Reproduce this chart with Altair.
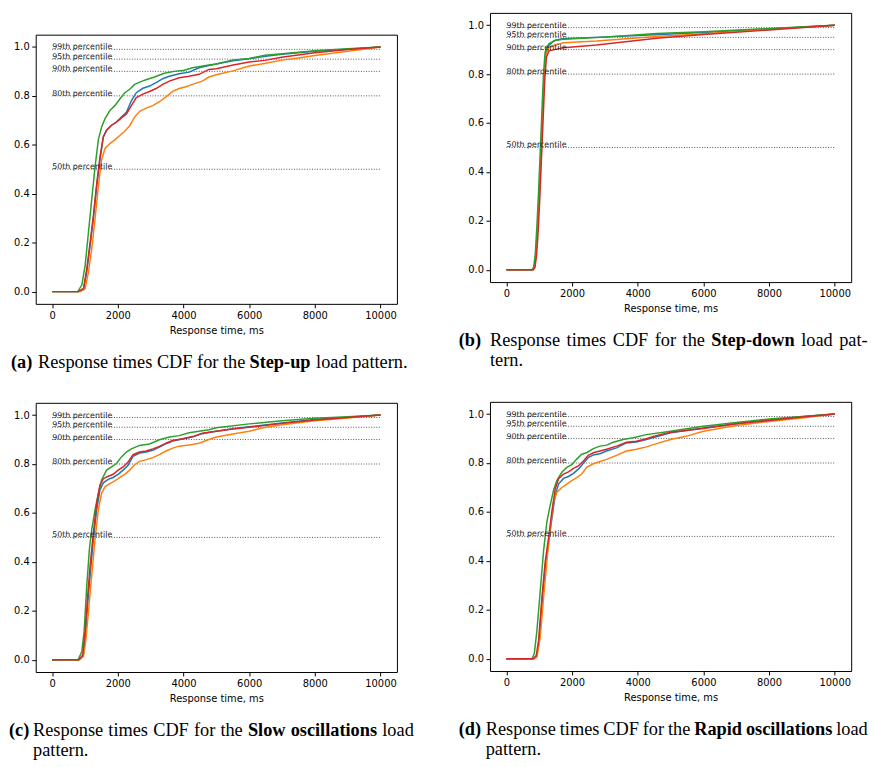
import altair as alt
import pandas as pd

# ---------------- data ----------------
SERIES = ["series 1", "series 2", "series 3", "series 4"]
COLORS = ["#1f77b4", "#ff7f0e", "#2ca02c", "#d62728"]
PERCENTILES = [0.5, 0.8, 0.9, 0.95, 0.99]
PERCENTILE_LABELS = ["50th percentile", "80th percentile", "90th percentile",
                     "95th percentile", "99th percentile"]
X_TICKS = [0, 2000, 4000, 6000, 8000, 10000]
Y_TICKS = [0.0, 0.2, 0.4, 0.6, 0.8, 1.0]

# (a) Step-up
A_BLUE = [(0, 0), (800, 0), (955, 0.007), (1055, 0.08), (1156, 0.188), (1256, 0.296), (1357, 0.43),
          (1457, 0.538), (1558, 0.632), (1658, 0.66), (1809, 0.68), (1960, 0.693), (2111, 0.713),
          (2262, 0.733), (2413, 0.78), (2563, 0.813), (2764, 0.831), (2966, 0.84), (3167, 0.854),
          (3368, 0.87), (3569, 0.88), (3870, 0.89), (4172, 0.897), (4474, 0.915), (4775, 0.924),
          (5000, 0.93), (5500, 0.943), (6000, 0.952), (6500, 0.962), (7000, 0.97), (8000, 0.982),
          (9000, 0.99), (10000, 1.0)]
A_ORANGE = [(0, 0), (850, 0), (1005, 0.013), (1106, 0.08), (1206, 0.175), (1307, 0.296), (1407, 0.43),
            (1507, 0.538), (1608, 0.585), (1759, 0.605), (1910, 0.62), (2061, 0.638), (2212, 0.655),
            (2362, 0.678), (2513, 0.713), (2664, 0.737), (2865, 0.75), (3066, 0.76), (3267, 0.776),
            (3468, 0.796), (3669, 0.818), (3870, 0.83), (4071, 0.837), (4273, 0.847), (4574, 0.86),
            (4775, 0.877), (5000, 0.886), (5500, 0.902), (6000, 0.922), (6500, 0.933), (7000, 0.946),
            (7500, 0.955), (8000, 0.965), (9000, 0.982), (10000, 1.0)]
A_GREEN = [(0, 0), (780, 0), (904, 0.027), (1005, 0.107), (1106, 0.242), (1206, 0.377), (1307, 0.51),
           (1407, 0.62), (1507, 0.673), (1608, 0.706), (1759, 0.74), (1910, 0.76), (2061, 0.787),
           (2212, 0.813), (2362, 0.827), (2513, 0.847), (2815, 0.864), (3116, 0.877), (3418, 0.892),
           (3720, 0.9), (4021, 0.905), (4273, 0.915), (4775, 0.926), (5000, 0.93), (5477, 0.946),
           (6000, 0.953), (6482, 0.966), (7000, 0.972), (8000, 0.984), (9000, 0.993), (10000, 1.0)]
A_RED = [(0, 0), (800, 0), (955, 0.013), (1055, 0.094), (1156, 0.2), (1256, 0.31), (1357, 0.44),
         (1457, 0.55), (1558, 0.632), (1658, 0.66), (1809, 0.68), (1960, 0.693), (2111, 0.71),
         (2262, 0.726), (2413, 0.76), (2563, 0.793), (2764, 0.807), (2966, 0.818), (3167, 0.83),
         (3368, 0.847), (3569, 0.86), (3870, 0.874), (4172, 0.88), (4474, 0.888), (4775, 0.908),
         (5000, 0.911), (5477, 0.925), (6000, 0.938), (6482, 0.945), (6985, 0.958), (8000, 0.976),
         (9000, 0.989), (10000, 1.0)]

# (b) Step-down
B_BLUE = [(0, 0), (800, 0), (850, 0.01), (900, 0.06), (950, 0.17), (1000, 0.31), (1050, 0.47),
          (1100, 0.63), (1150, 0.79), (1200, 0.885), (1300, 0.918), (1450, 0.936), (1700, 0.944),
          (2500, 0.949), (4000, 0.958), (6000, 0.97), (8000, 0.984), (10000, 1.0)]
B_ORANGE = [(0, 0), (800, 0), (850, 0.01), (900, 0.06), (950, 0.17), (1000, 0.31), (1050, 0.47),
            (1100, 0.63), (1150, 0.79), (1200, 0.88), (1300, 0.908), (1500, 0.92), (1739, 0.928),
            (2750, 0.935), (4570, 0.954), (6000, 0.965), (8000, 0.983), (10000, 1.0)]
B_GREEN = [(0, 0), (780, 0), (830, 0.01), (880, 0.065), (930, 0.18), (980, 0.32), (1030, 0.48),
           (1080, 0.64), (1130, 0.8), (1180, 0.89), (1300, 0.925), (1500, 0.938), (1739, 0.942),
           (2750, 0.949), (4570, 0.966), (6000, 0.973), (8000, 0.986), (10000, 1.0)]
B_RED = [(0, 0), (820, 0), (870, 0.01), (920, 0.06), (970, 0.16), (1020, 0.3), (1070, 0.46),
         (1120, 0.62), (1170, 0.78), (1220, 0.87), (1300, 0.895), (1739, 0.908), (2750, 0.919),
         (4570, 0.946), (6000, 0.962), (8000, 0.98), (10000, 1.0)]

# (c) Slow oscillations
C_BLUE = [(0, 0), (820, 0), (944, 0.015), (1014, 0.1), (1085, 0.23), (1166, 0.36), (1256, 0.492),
          (1357, 0.613), (1457, 0.694), (1558, 0.723), (1708, 0.737), (1859, 0.745), (2010, 0.758),
          (2161, 0.775), (2312, 0.795), (2463, 0.831), (2664, 0.845), (2865, 0.849), (3066, 0.856),
          (3267, 0.869), (3468, 0.883), (3669, 0.894), (3971, 0.902), (4273, 0.91), (4574, 0.924),
          (4775, 0.929), (5000, 0.934), (5500, 0.944), (6000, 0.952), (7000, 0.968), (8000, 0.982),
          (9000, 0.991), (10000, 1.0)]
C_ORANGE = [(0, 0), (830, 0), (954, 0.013), (1034, 0.088), (1105, 0.196), (1206, 0.344), (1306, 0.492),
            (1407, 0.613), (1507, 0.68), (1608, 0.707), (1759, 0.72), (1910, 0.731), (2061, 0.745),
            (2212, 0.758), (2362, 0.775), (2513, 0.797), (2664, 0.811), (2865, 0.818), (3066, 0.826),
            (3267, 0.838), (3468, 0.853), (3669, 0.865), (3870, 0.873), (4172, 0.878), (4474, 0.885),
            (4775, 0.9), (5000, 0.91), (5500, 0.923), (6000, 0.934), (6500, 0.95), (7000, 0.96),
            (8000, 0.977), (9000, 0.988), (10000, 1.0)]
C_GREEN = [(0, 0), (790, 0), (904, 0.034), (974, 0.115), (1055, 0.304), (1135, 0.452), (1206, 0.532),
           (1306, 0.613), (1407, 0.68), (1507, 0.735), (1658, 0.775), (1809, 0.788), (1960, 0.802),
           (2111, 0.829), (2262, 0.849), (2413, 0.862), (2664, 0.876), (2966, 0.882), (3267, 0.899),
           (3569, 0.91), (3870, 0.916), (4172, 0.928), (4474, 0.934), (4775, 0.94), (5000, 0.948),
           (6000, 0.964), (7000, 0.977), (8000, 0.987), (9000, 0.993), (10000, 1.0)]
C_RED = [(0, 0), (810, 0), (934, 0.02), (1004, 0.115), (1075, 0.249), (1156, 0.384), (1256, 0.519),
         (1357, 0.64), (1457, 0.714), (1558, 0.74), (1708, 0.75), (1859, 0.758), (2010, 0.775),
         (2161, 0.788), (2312, 0.808), (2463, 0.838), (2664, 0.849), (2865, 0.853), (3066, 0.862),
         (3267, 0.872), (3468, 0.885), (3669, 0.896), (3971, 0.903), (4273, 0.912), (4574, 0.926),
         (4775, 0.93), (5000, 0.934), (5500, 0.943), (6000, 0.95), (7000, 0.966), (8000, 0.98),
         (9000, 0.99), (10000, 1.0)]

# (d) Rapid oscillations
D_BLUE = [(0, 0), (830, 0), (920, 0.01), (990, 0.065), (1090, 0.235), (1190, 0.38), (1290, 0.48),
          (1385, 0.573), (1486, 0.667), (1587, 0.714), (1738, 0.737), (1890, 0.745), (2042, 0.758),
          (2193, 0.775), (2345, 0.799), (2496, 0.822), (2648, 0.833), (2850, 0.838), (3051, 0.849),
          (3354, 0.862), (3657, 0.882), (3960, 0.886), (4264, 0.896), (5000, 0.924), (6000, 0.943),
          (7000, 0.96), (8000, 0.976), (9000, 0.989), (10000, 1.0)]
D_ORANGE = [(0, 0), (840, 0), (930, 0.007), (1031, 0.088), (1132, 0.25), (1233, 0.398), (1334, 0.532),
            (1435, 0.64), (1536, 0.68), (1688, 0.7), (1839, 0.714), (1991, 0.728), (2142, 0.74),
            (2294, 0.755), (2445, 0.782), (2648, 0.797), (2850, 0.806), (3051, 0.815), (3354, 0.831),
            (3657, 0.849), (3960, 0.856), (4264, 0.866), (4500, 0.876), (5000, 0.896), (5500, 0.91),
            (6000, 0.93), (7000, 0.953), (8000, 0.97), (9000, 0.984), (10000, 1.0)]
D_GREEN = [(0, 0), (780, 0), (849, 0.02), (930, 0.115), (1031, 0.277), (1132, 0.44), (1233, 0.56),
           (1334, 0.627), (1435, 0.688), (1536, 0.728), (1688, 0.762), (1839, 0.782), (1991, 0.793),
           (2142, 0.816), (2294, 0.836), (2445, 0.842), (2648, 0.859), (2850, 0.869), (3051, 0.873),
           (3253, 0.885), (3556, 0.896), (3859, 0.903), (4264, 0.916), (5000, 0.93), (6000, 0.95),
           (7000, 0.966), (8000, 0.98), (9000, 0.99), (10000, 1.0)]
D_RED = [(0, 0), (820, 0), (910, 0.013), (981, 0.075), (1082, 0.25), (1183, 0.398), (1284, 0.492),
         (1385, 0.6), (1486, 0.694), (1587, 0.735), (1738, 0.755), (1890, 0.764), (2042, 0.778),
         (2193, 0.788), (2345, 0.808), (2496, 0.831), (2648, 0.842), (2850, 0.849), (3051, 0.856),
         (3354, 0.869), (3657, 0.885), (3960, 0.889), (4264, 0.899), (4500, 0.91), (5000, 0.926),
         (6000, 0.941), (7000, 0.96), (8000, 0.974), (9000, 0.988), (10000, 1.0)]

# caption words: (text, bold, line)
CAP_A = [("(a)", True, 0), ("Response times CDF for the", False, 0), ("Step-up", True, 0),
         ("load pattern.", False, 0)]
CAP_B = [("(b)", True, 0), ("Response", False, 0), ("times", False, 0), ("CDF", False, 0),
         ("for", False, 0), ("the", False, 0), ("Step-down", True, 0), ("load", False, 0),
         ("pat-", False, 0), ("tern.", False, 1)]
CAP_C = [("(c)", True, 0), ("Response", False, 0), ("times", False, 0), ("CDF", False, 0),
         ("for", False, 0), ("the", False, 0), ("Slow", True, 0), ("oscillations", True, 0),
         ("load", False, 0), ("pattern.", False, 1)]
CAP_D = [("(d)", True, 0), ("Response", False, 0), ("times", False, 0), ("CDF", False, 0),
         ("for", False, 0), ("the", False, 0), ("Rapid", True, 0), ("oscillations", True, 0),
         ("load", False, 0), ("pattern.", False, 1)]

# ---------------- layout (pixels, relative to each plot frame) ----------------
W, H = 365, 272
CAP_X_A = [-25, 2.3, 216, 283.3]
CAP_X_B = [-31.6, 0, 77.4, 124, 166.5, 194.6, 223.7, 314.5, 352.9, 0]
CAP_X_C = [-27, -2.7, 73.4, 118.7, 159.9, 186.6, 214.4, 257.6, 350.2, -2.7]
CAP_X_D = [-31.6, -4.3, 70.5, 114.5, 154.4, 179.9, 206.4, 258.6, 349.9, -4.3]
LINE_Y = [H + 64.6, H + 84.6]
CAP_FONT = "Liberation Serif"
CAP_SIZE = 18.5
SPACER_H = 11          # empty cell above panel (a)
A_BOTTOM = 360         # extent of panel (a) cell below its frame
ROW_GAP_LEFT = 10
ROW_GAP_RIGHT = 31
COL_GAP = 43


def xenc(field):
    return alt.X(f"{field}:Q",
                 scale=alt.Scale(domain=[-500, 10500], nice=False, zero=False),
                 axis=alt.Axis(values=X_TICKS, format="d", title="Response time, ms",
                               labelFlush=False))


def yenc(field):
    return alt.Y(f"{field}:Q",
                 scale=alt.Scale(domain=[-0.05, 1.05], nice=False, zero=False),
                 axis=alt.Axis(values=Y_TICKS, format=".1f", title=None, labelFlush=False))


ONE = pd.DataFrame({"k": [0]})


def panel(curves, caption, cap_x, bottom=None):
    rows = []
    for name, pts in zip(SERIES, curves):
        for t, p in pts:
            rows.append({"t": t, "cdf": p, "series": name})
    df = pd.DataFrame(rows)
    pct = pd.DataFrame({"t0": [0] * len(PERCENTILES), "t1": [10000] * len(PERCENTILES),
                        "cdf": PERCENTILES, "label": PERCENTILE_LABELS})

    rules = alt.Chart(pct).mark_rule(strokeDash=[1, 1.6], strokeWidth=1, color="#555").encode(
        x=xenc("t0"), x2="t1:Q", y=yenc("cdf"))
    lines = alt.Chart(df).mark_line(strokeWidth=1.5).encode(
        x=xenc("t"), y=yenc("cdf"),
        color=alt.Color("series:N", scale=alt.Scale(domain=SERIES, range=COLORS), legend=None))
    labels = alt.Chart(pct).mark_text(align="left", baseline="alphabetic", font="DejaVu Sans",
                                      fontSize=8, color="#222").encode(
        x=xenc("t0"), y=yenc("cdf"), text="label:N")
    layers = [rules, lines, labels]
    for (txt, bold, line), px in zip(caption, cap_x):
        layers.append(
            alt.Chart(ONE).mark_text(text=txt, align="left", baseline="alphabetic", font=CAP_FONT,
                                     fontSize=CAP_SIZE, fontWeight="bold" if bold else "normal",
                                     color="#000").encode(x=alt.value(px), y=alt.value(LINE_Y[line])))
    if bottom is not None:
        layers.append(
            alt.Chart(ONE).mark_text(text=".", align="left", baseline="bottom", fontSize=4,
                                     opacity=0).encode(x=alt.value(0), y=alt.value(bottom)))
    return alt.layer(*layers).properties(width=W, height=H)


spacer = alt.Chart(ONE).mark_text(text=".", baseline="top", fontSize=1, opacity=0).encode(
    x=alt.value(0), y=alt.value(0)
).properties(width=W, height=SPACER_H,
             view=alt.ViewBackground(stroke="transparent", strokeWidth=0))

pa = panel([A_BLUE, A_ORANGE, A_GREEN, A_RED], CAP_A, CAP_X_A, bottom=A_BOTTOM)
pb = panel([B_BLUE, B_ORANGE, B_GREEN, B_RED], CAP_B, CAP_X_B)
pc = panel([C_BLUE, C_ORANGE, C_GREEN, C_RED], CAP_C, CAP_X_C)
pd_ = panel([D_BLUE, D_ORANGE, D_GREEN, D_RED], CAP_D, CAP_X_D)

left = alt.vconcat(spacer, pa, pc, spacing=ROW_GAP_LEFT)
right = alt.vconcat(pb, pd_, spacing=ROW_GAP_RIGHT)

chart = alt.hconcat(left, right, spacing=COL_GAP).properties(
    padding={"left": 0, "top": 0, "right": 0, "bottom": 0}
).configure_view(
    stroke="#000", strokeWidth=1
).configure_axis(
    labelFont="DejaVu Sans", labelFontSize=10, labelColor="#000", tickColor="#000",
    tickSize=4, tickWidth=1, domain=False, grid=False, titleFont="DejaVu Sans",
    titleFontSize=10, titleFontWeight="normal", titleColor="#000"
).configure_axisX(
    labelPadding=3, titlePadding=5
).configure_axisY(
    labelPadding=2.5
)

chart.save("out.html", embed_options={"renderer": "svg", "actions": False})
